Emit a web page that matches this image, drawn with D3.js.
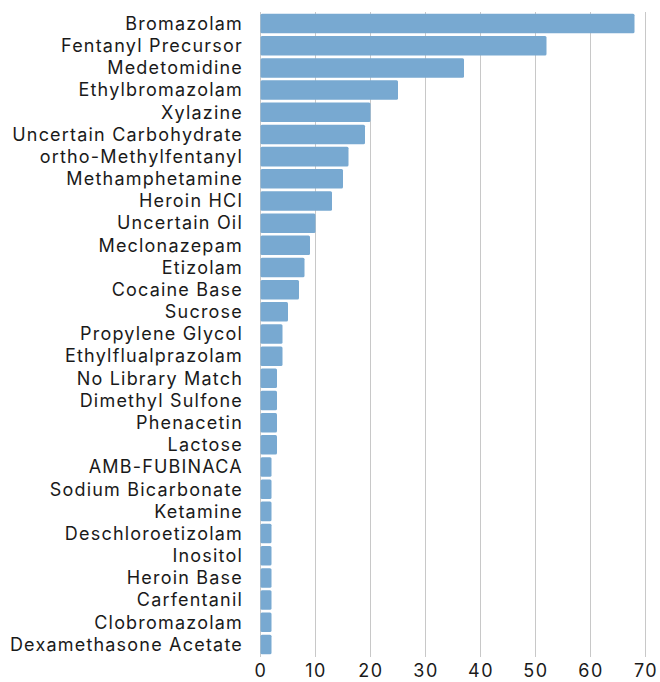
<!DOCTYPE html>
<html><head><meta charset="utf-8">
<script src="https://cdn.jsdelivr.net/npm/d3@7"></script>
<style>body{margin:0;background:#fff;} text{font-family:Inter, "DejaVu Sans", sans-serif;}</style>
</head><body>
<svg id="chart" width="660" height="682"></svg>
<script>
const categories = ["Bromazolam","Fentanyl Precursor","Medetomidine","Ethylbromazolam","Xylazine","Uncertain Carbohydrate","ortho-Methylfentanyl","Methamphetamine","Heroin HCl","Uncertain Oil","Meclonazepam","Etizolam","Cocaine Base","Sucrose","Propylene Glycol","Ethylflualprazolam","No Library Match","Dimethyl Sulfone","Phenacetin","Lactose","AMB-FUBINACA","Sodium Bicarbonate","Ketamine","Deschloroetizolam","Inositol","Heroin Base","Carfentanil","Clobromazolam","Dexamethasone Acetate"];
const values = [68,52,37,25,20,19,16,15,13,10,9,8,7,5,4,4,3,3,3,3,2,2,2,2,2,2,2,2,2];
const xTicks = [0,10,20,30,40,50,60,70];

const svg = d3.select("#chart");
const x = d3.scaleLinear().domain([0,70]).range([260.5,645.5]);
const y = d3.scaleBand().domain(categories).range([12.5,655.5]).paddingInner(0.12).paddingOuter(0.06);

svg.append("g").selectAll("line").data(xTicks).join("line")
  .attr("x1",d=>x(d)).attr("x2",d=>x(d)).attr("y1",12).attr("y2",657)
  .attr("stroke","#c8c8c8").attr("stroke-width",1);

svg.append("g").selectAll("rect").data(categories).join("rect")
  .attr("x",x(0)).attr("y",d=>y(d))
  .attr("width",(d,i)=>x(values[i])-x(0)).attr("height",y.bandwidth())
  .attr("rx",1.5).attr("fill","#78a9d1");

svg.append("g").selectAll("text").data(categories).join("text")
  .attr("x",243).attr("y",d=>y(d)+y.bandwidth()/2).attr("dy","0.35em")
  .attr("text-anchor","end").attr("font-size",18).attr("letter-spacing","1.2px")
  .attr("fill","#1a1a1a").text(d=>d);

const xa = d3.axisBottom(x).tickValues(xTicks).tickSize(0).tickPadding(0);
const g = svg.append("g").attr("transform","translate(0,677)").call(xa);
g.select(".domain").remove();
g.selectAll("text").attr("y",0).attr("dy","0").attr("font-size",18).attr("letter-spacing","1.5px")
  .attr("fill","#1a1a1a").style("font-family","Inter, sans-serif");
</script>
</body></html>
